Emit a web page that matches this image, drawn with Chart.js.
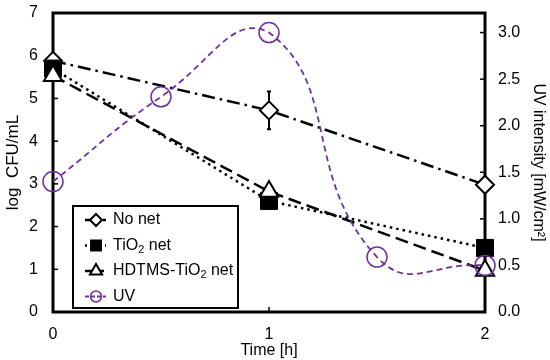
<!DOCTYPE html>
<html>
<head>
<meta charset="utf-8">
<script src="https://cdn.jsdelivr.net/npm/chart.js@4"></script>
<style>
  html, body { margin: 0; padding: 0; background: #fff; }
  #wrap { width: 550px; height: 360px; }
</style>
</head>
<body>
<div id="wrap"><canvas id="grafica" width="550" height="360"></canvas></div>
<script>
// ---- data ----
const horas = [0, 1, 2];
const sinMalla = [5.88, 4.72, 2.98];      // No net
const sinMallaErr = [0, 0.44, 0];
const tio2Malla = [5.7, 2.6, 1.5];        // TiO2 net
const hdtmsMalla = [5.53, 2.82, 0.97];    // HDTMS-TiO2 net
const uvHoras = [0, 0.5, 1, 1.5, 2];
const uvIntensidad = [1.4, 2.31, 3.0, 0.59, 0.5];
const ticksX = [0, 1, 2];
const ticksLog = [0, 1, 2, 3, 4, 5, 6, 7];
const ticksUV = [0, 0.5, 1, 1.5, 2, 2.5, 3];

const FUENTE = "'Liberation Sans', Arial, sans-serif";
const MORADO = "#7030a0";

function puntos(xs, ys) {
    return xs.map((x, i) => ({ x: x, y: ys[i] }));
}

// quita el relleno automatico de las etiquetas para fijar el area
function sinRelleno(s) {
    s.paddingTop = 0; s.paddingBottom = 0;
    s.paddingLeft = 0; s.paddingRight = 0;
}

/* ===============================
   MARCO, TICKS, ERROR Y LEYENDA
================================= */
const marcoPlugin = {
    id: "marco",
    beforeDatasetsDraw(chart) {
        const ctx = chart.ctx;
        const a = chart.chartArea;
        const sx = chart.scales.x, sy = chart.scales.y, sy2 = chart.scales.y2;
        ctx.save();
        ctx.strokeStyle = "#000";
        ctx.lineWidth = 1.5;
        ticksLog.forEach(v => {
            let y = sy.getPixelForValue(v);
            ctx.beginPath(); ctx.moveTo(a.left, y); ctx.lineTo(a.left + 5, y); ctx.stroke();
        });
        ticksUV.forEach(v => {
            let y = sy2.getPixelForValue(v);
            ctx.beginPath(); ctx.moveTo(a.right, y); ctx.lineTo(a.right - 5, y); ctx.stroke();
        });
        ticksX.forEach(v => {
            let x = sx.getPixelForValue(v);
            ctx.beginPath(); ctx.moveTo(x, a.bottom); ctx.lineTo(x, a.bottom - 5); ctx.stroke();
        });
        ctx.lineWidth = 3;
        ctx.strokeRect(a.left, a.top, a.right - a.left, a.bottom - a.top);

        // barra de error (No net)
        ctx.lineWidth = 2;
        horas.forEach((h, i) => {
            if (!sinMallaErr[i]) return;
            let x = sx.getPixelForValue(h);
            let y1 = sy.getPixelForValue(sinMalla[i] + sinMallaErr[i]);
            let y2 = sy.getPixelForValue(sinMalla[i] - sinMallaErr[i]);
            ctx.beginPath(); ctx.moveTo(x, y1); ctx.lineTo(x, y2); ctx.stroke();
            ctx.beginPath();
            ctx.moveTo(x - 2, y1); ctx.lineTo(x + 2, y1);
            ctx.moveTo(x - 2, y2); ctx.lineTo(x + 2, y2);
            ctx.stroke();
        });
        ctx.restore();
    },
    afterDatasetsDraw(chart) {
        const ctx = chart.ctx;
        const caja = { x: 73, y: 206, w: 165, h: 102 };
        ctx.save();
        ctx.fillStyle = "#fff";
        ctx.fillRect(caja.x, caja.y, caja.w, caja.h);
        ctx.strokeStyle = "#000";
        ctx.lineWidth = 2;
        ctx.strokeRect(caja.x, caja.y, caja.w, caja.h);

        const filas = [
            { partes: [["No net", 0]], color: "#000", dash: [6, 3], estilo: "rectRot", r: 6, relleno: "#fff", ancho: 2.5 },
            { partes: [["TiO", 0], ["2", 1], [" net", 0]], color: "#000", dash: [2, 3], estilo: "rect", r: 7, relleno: "#000", ancho: 2.5 },
            { partes: [["HDTMS-TiO", 0], ["2", 1], [" net", 0]], color: "#000", dash: [8, 3], estilo: "triangle", r: 7, relleno: "#fff", ancho: 2.5 },
            { partes: [["UV", 0]], color: MORADO, dash: [4, 2], estilo: "circle", r: 5.5, relleno: "rgba(0,0,0,0)", ancho: 1.8 }
        ];
        filas.forEach((f, i) => {
            let y = 220 + i * 25.5;
            ctx.strokeStyle = f.color;
            ctx.lineWidth = f.ancho;
            ctx.setLineDash(f.dash);
            ctx.beginPath(); ctx.moveTo(85, y); ctx.lineTo(106, y); ctx.stroke();
            ctx.setLineDash([]);
            ctx.fillStyle = f.relleno;
            ctx.lineWidth = f.estilo === "circle" ? 1.5 : 2;
            Chart.helpers.drawPoint(ctx, { pointStyle: f.estilo, radius: f.r, rotation: 0, borderWidth: ctx.lineWidth }, 96, y);
            let x = 113;
            ctx.fillStyle = "#000";
            ctx.textBaseline = "middle";
            f.partes.forEach(p => {
                ctx.font = p[1] ? "11px " + FUENTE : "16px " + FUENTE;
                ctx.fillText(p[0], x, p[1] ? y + 4 : y);
                x += ctx.measureText(p[0]).width;
            });
        });
        ctx.restore();
    }
};

/* ===============================
   GRAFICA
================================= */
const ctx = document.getElementById("grafica").getContext("2d");

const grafica = new Chart(ctx, {
    type: "line",
    data: {
        datasets: [
            {
                label: "UV",
                data: puntos(uvHoras, uvIntensidad),
                yAxisID: "y2",
                borderColor: MORADO,
                borderWidth: 1.8,
                borderDash: [6, 4],
                tension: 0.5,
                pointStyle: "circle",
                pointRadius: 10,
                pointBorderWidth: 1.5,
                pointBorderColor: MORADO,
                pointBackgroundColor: "rgba(0,0,0,0)",
                order: 0
            },
            {
                label: "HDTMS-TiO2 net",
                data: puntos(horas, hdtmsMalla),
                yAxisID: "y",
                borderColor: "#000",
                borderWidth: 2.5,
                borderDash: [13, 6],
                pointStyle: "triangle",
                pointRadius: 10.5,
                pointBorderWidth: 2,
                pointBorderColor: "#000",
                pointBackgroundColor: "#fff",
                order: 1
            },
            {
                label: "TiO2 net",
                data: puntos(horas, tio2Malla),
                yAxisID: "y",
                borderColor: "#000",
                borderWidth: 2.5,
                borderDash: [2.5, 4],
                pointStyle: "rect",
                pointRadius: 12,
                pointBorderWidth: 1,
                pointBorderColor: "#000",
                pointBackgroundColor: "#000",
                order: 2
            },
            {
                label: "No net",
                data: puntos(horas, sinMalla),
                yAxisID: "y",
                borderColor: "#000",
                borderWidth: 2.5,
                borderDash: [13, 5, 2.5, 5],
                pointStyle: "rectRot",
                pointRadius: 9,
                pointBorderWidth: 2,
                pointBorderColor: "#000",
                pointBackgroundColor: "#fff",
                order: 3
            }
        ]
    },
    options: {
        responsive: false,
        animation: false,
        clip: false,
        layout: { padding: { top: 12, left: 0, right: 0, bottom: 0 } },
        plugins: {
            legend: { display: false },
            tooltip: { enabled: false }
        },
        scales: {
            x: {
                type: "linear",
                min: 0,
                max: 2,
                afterBuildTicks: s => { s.ticks = ticksX.map(v => ({ value: v })); },
                afterFit: s => { s.height = 48; sinRelleno(s); },
                grid: { display: false, drawTicks: false },
                border: { display: false },
                ticks: { color: "#000", padding: 13, maxRotation: 0, font: { family: FUENTE, size: 16 } },
                title: { display: true, text: "Time [h]", color: "#000", padding: 0, font: { family: FUENTE, size: 16 } }
            },
            y: {
                position: "left",
                min: 0,
                max: 7,
                afterBuildTicks: s => { s.ticks = ticksLog.map(v => ({ value: v })); },
                afterFit: s => { s.width = 53; sinRelleno(s); },
                grid: { display: false, drawTicks: false },
                border: { display: false },
                ticks: { color: "#000", padding: 15, font: { family: FUENTE, size: 16 } },
                title: { display: true, text: "log  CFU/mL", color: "#000", padding: { top: 3, bottom: 0 }, font: { family: FUENTE, size: 17 } }
            },
            y2: {
                position: "right",
                min: 0,
                max: 3.21,
                afterBuildTicks: s => { s.ticks = ticksUV.map(v => ({ value: v })); },
                afterFit: s => { s.width = 65; sinRelleno(s); },
                grid: { display: false, drawTicks: false },
                border: { display: false },
                ticks: {
                    color: "#000",
                    padding: 13,
                    font: { family: FUENTE, size: 16 },
                    callback: v => v.toFixed(1)
                },
                title: { display: true, text: "UV intensity [mW/cm²]", color: "#000", padding: { top: 2, bottom: 0 }, font: { family: FUENTE, size: 16 } }
            }
        }
    },
    plugins: [marcoPlugin]
});
</script>
</body>
</html>
